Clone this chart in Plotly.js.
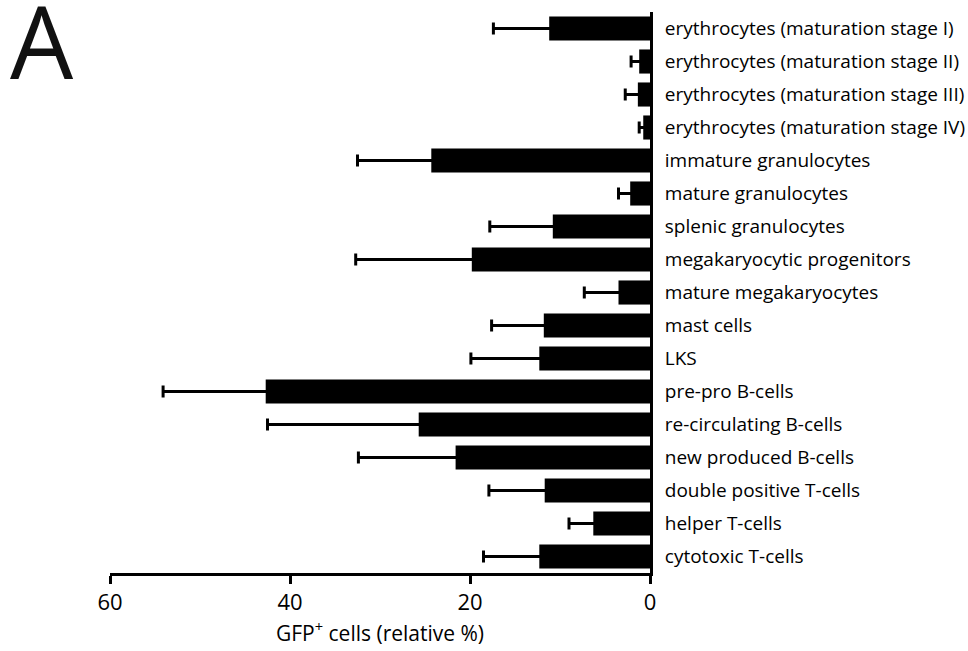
<!DOCTYPE html>
<html>
<head>
<meta charset="utf-8">
<script src="https://cdn.plot.ly/plotly-3.0.1.min.js"></script>
<style>html,body{margin:0;padding:0;background:#fff;}#chart{width:968px;height:651px;}</style>
</head>
<body>
<div id="chart"></div>
<script>
var categories = [
  "erythrocytes (maturation stage I)",
  "erythrocytes (maturation stage II)",
  "erythrocytes (maturation stage III)",
  "erythrocytes (maturation stage IV)",
  "immature granulocytes",
  "mature granulocytes",
  "splenic granulocytes",
  "megakaryocytic progenitors",
  "mature megakaryocytes",
  "mast cells",
  "LKS",
  "pre-pro B-cells",
  "re-circulating B-cells",
  "new produced B-cells",
  "double positive T-cells",
  "helper T-cells",
  "cytotoxic T-cells"
];
var gfpMean = [11.2, 1.2, 1.35, 0.75, 24.3, 2.2, 10.8, 19.8, 3.5, 11.8, 12.3, 42.7, 25.7, 21.6, 11.7, 6.3, 12.3];
var gfpSD   = [6.2, 0.9, 1.4, 0.45, 8.2, 1.3, 7.0, 12.9, 3.8, 5.8, 7.6, 11.4, 16.8, 10.8, 6.2, 2.7, 6.2];
var xTicks = [60, 40, 20, 0];

var FONT = "Open Sans, Noto Sans, sans-serif";

var trace = {
  type: "bar",
  orientation: "h",
  x: gfpMean,
  y: categories,
  marker: {color: "#000000", line: {width: 0}},
  error_x: {
    type: "data",
    symmetric: false,
    array: gfpSD,
    arrayminus: gfpMean,
    color: "#000000",
    thickness: 3,
    width: 6
  },
  hoverinfo: "x+y"
};

var layout = {
  width: 968,
  height: 651,
  margin: {l: 110, r: 318, t: 12, b: 78, pad: 0},
  paper_bgcolor: "#ffffff",
  plot_bgcolor: "#ffffff",
  showlegend: false,
  bargap: 0.27,
  font: {family: FONT, color: "#000000"},
  xaxis: {
    range: [60, 0],
    tickmode: "array",
    tickvals: xTicks,
    ticktext: xTicks.map(String),
    ticks: "outside",
    ticklen: 8,
    tickwidth: 3,
    tickcolor: "#000000",
    showline: true,
    linewidth: 3,
    linecolor: "#000000",
    showgrid: false,
    zeroline: false,
    tickfont: {family: FONT, size: 22, color: "#000000"},
    title: {
      text: "GFP<sup>+</sup> cells (relative %)",
      font: {family: FONT, size: 21, color: "#000000"},
      standoff: 9
    }
  },
  yaxis: {
    side: "right",
    type: "category",
    autorange: "reversed",
    ticks: "",
    showline: true,
    linewidth: 3,
    linecolor: "#000000",
    showgrid: false,
    zeroline: false,
    ticklabelstandoff: 8,
    tickfont: {family: FONT, size: 19, color: "#000000"}
  },
  annotations: [{
    text: "A",
    xref: "paper",
    yref: "paper",
    x: -0.1265,
    y: 1.0,
    xanchor: "center",
    yanchor: "top",
    yshift: 42,
    showarrow: false,
    font: {family: FONT, size: 100, color: "#111111"}
  }]
};

Plotly.newPlot("chart", [trace], layout, {displayModeBar: false, staticPlot: true});
</script>
</body>
</html>
